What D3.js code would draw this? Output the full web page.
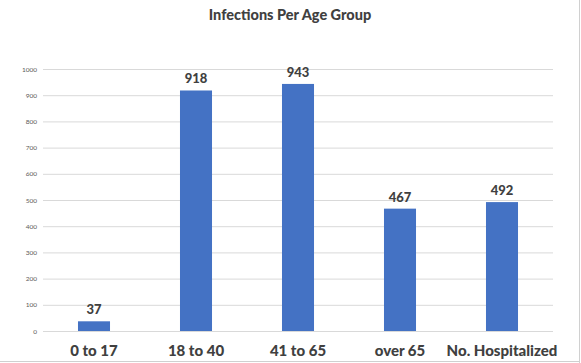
<!DOCTYPE html>
<html>
<head>
<meta charset="utf-8">
<script src="https://cdn.jsdelivr.net/npm/d3@7"></script>
<style>
  body { margin: 0; background: #fff; }
  text { font-family: Lato, "Open Sans", sans-serif; }
</style>
</head>
<body>
<div id="chart"></div>
<script>
const categories = ["0 to 17", "18 to 40", "41 to 65", "over 65", "No. Hospitalized"];
const infections = [37, 918, 943, 467, 492];
const yTicks = [0, 100, 200, 300, 400, 500, 600, 700, 800, 900, 1000];

const width = 581;
const height = 363;
const margin = { top: 69, right: 28, bottom: 32, left: 43 };

const svg = d3.select('#chart').append('svg').attr('width', width).attr('height', height);

// outer frame pieces (right and bottom edges visible in the screenshot)
svg.append('line').attr('x1', 579.5).attr('x2', 579.5).attr('y1', 0).attr('y2', height)
    .attr('stroke', '#d0d0d0');
svg.append('line').attr('x1', 0).attr('x2', 580).attr('y1', 361.5).attr('y2', 361.5)
    .attr('stroke', '#d0d0d0');

const x = d3.scaleBand().domain(categories)
    .range([margin.left, width - margin.right]).paddingInner(0.686).paddingOuter(0.343);
const y = d3.scaleLinear().domain([0, 1000]).range([height - margin.bottom, margin.top]);

// gridlines + tick labels
const yAxis = d3.axisLeft(y).tickValues(yTicks).tickFormat(d3.format('d'))
    .tickSize(-(width - margin.right - margin.left)).tickPadding(6);
const ga = svg.append('g').attr('transform', `translate(${margin.left},0)`).call(yAxis);
ga.select('.domain').remove();
ga.selectAll('.tick line').attr('stroke', '#d9d9d9');
ga.selectAll('.tick text').attr('fill', '#595959').style('font-size', '6.5px');

svg.append('g').selectAll('rect').data(categories).enter().append('rect')
    .attr('x', d => x(d))
    .attr('width', x.bandwidth())
    .attr('y', (d, i) => y(infections[i]))
    .attr('height', (d, i) => y(0) - y(infections[i]))
    .attr('fill', '#4472C4');

svg.append('g').selectAll('text').data(categories).enter().append('text')
    .attr('x', d => x(d) + x.bandwidth() / 2)
    .attr('y', (d, i) => y(infections[i]) - 7)
    .attr('text-anchor', 'middle')
    .attr('fill', '#404040')
    .style('font-size', '13px').style('font-weight', '900')
    .text((d, i) => infections[i]);

svg.append('g').selectAll('text').data(categories).enter().append('text')
    .attr('x', d => x(d) + x.bandwidth() / 2)
    .attr('y', 356)
    .attr('text-anchor', 'middle')
    .attr('fill', '#404040')
    .style('font-size', '15px').style('font-weight', '900')
    .text(d => d);

svg.append('text')
    .attr('x', 290).attr('y', 20)
    .attr('text-anchor', 'middle')
    .attr('fill', '#404040')
    .style('font-size', '14.5px').style('font-weight', '900')
    .text('Infections Per Age Group');
</script>
</body>
</html>
